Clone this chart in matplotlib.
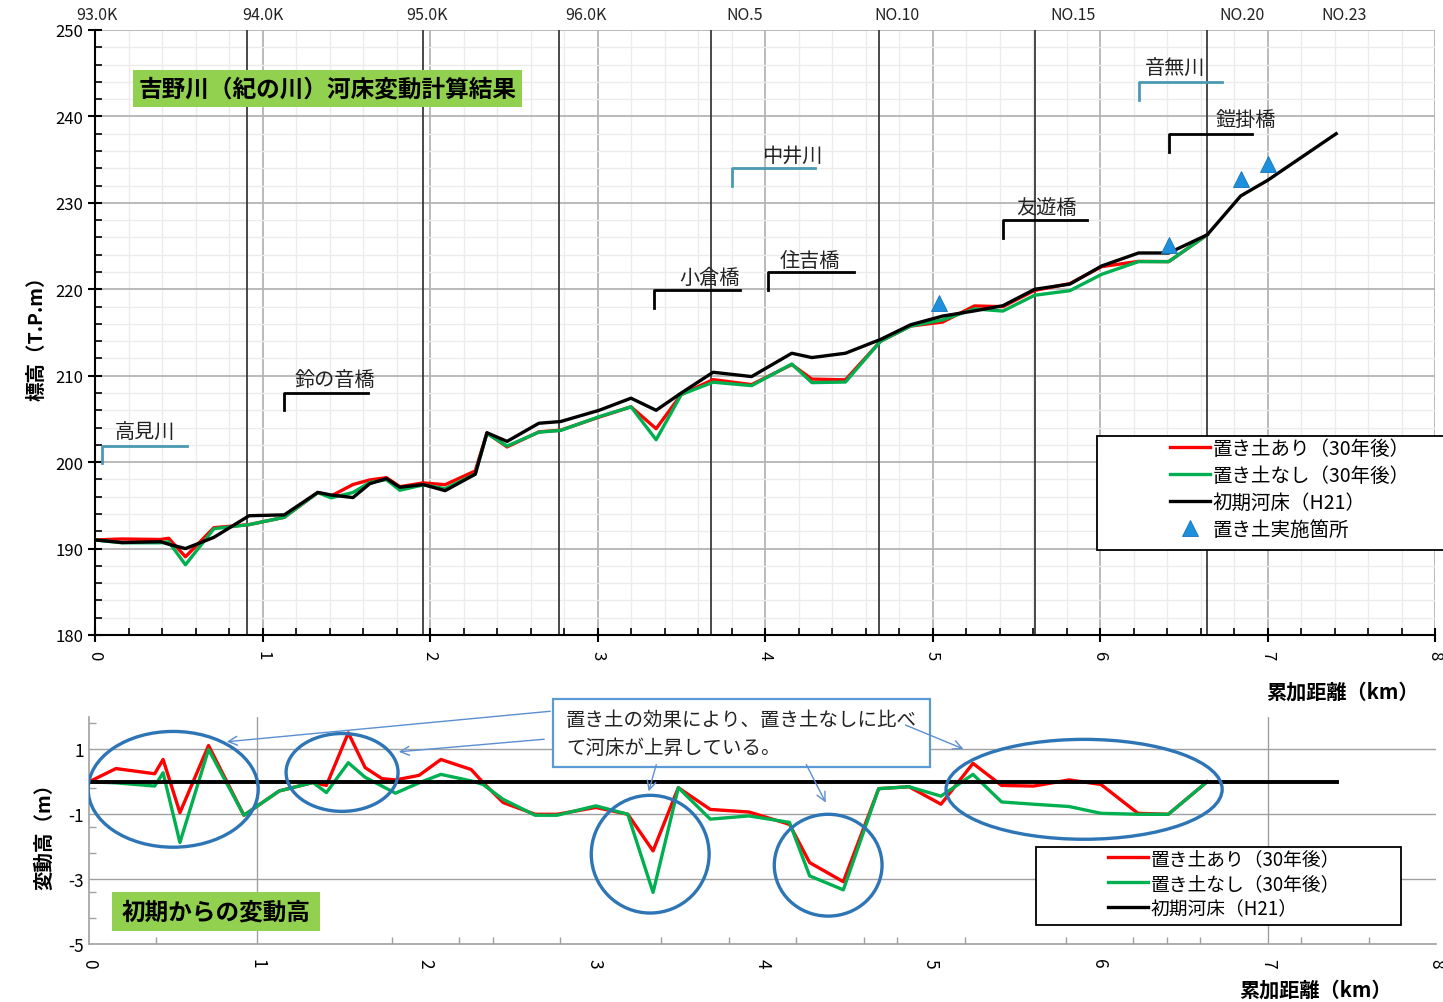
#!/usr/bin/env python3
"""Kinokawa (Yoshino) river bed change result: profile + change from initial bed."""

import matplotlib

matplotlib.use("Agg")

import matplotlib.pyplot as plt
from matplotlib.lines import Line2D
from matplotlib.patches import Ellipse, Rectangle, FancyArrowPatch
import numpy as np

plt.rcParams["font.family"] = ["Noto Sans CJK JP", "DejaVu Sans"]
plt.rcParams["axes.unicode_minus"] = False

# cumulative distance (km) of each cross section
km = [0.00, 0.16, 0.39, 0.44, 0.54, 0.71, 0.92, 1.13, 1.33, 1.41, 1.54, 1.64,
      1.74, 1.82, 1.96, 2.09, 2.27, 2.34, 2.46, 2.65, 2.78, 3.01, 3.20, 3.35,
      3.50, 3.69, 3.92, 4.16, 4.28, 4.48, 4.69, 4.87, 5.06, 5.25, 5.42, 5.61,
      5.82, 6.01, 6.23, 6.41, 6.64, 6.84, 7.00, 7.41]

# initial bed H21 (T.P.m)
bed_h21 = [191.0, 190.7, 190.8, 190.5, 190.0, 191.3, 193.8, 193.9, 196.5, 196.2,
           195.9, 197.5, 198.1, 197.1, 197.4, 196.7, 198.6, 203.4, 202.4, 204.5,
           204.7, 206.0, 207.4, 206.0, 208.0, 210.4, 209.9, 212.6, 212.1, 212.6,
           214.2, 215.9, 216.9, 217.5, 218.1, 220.0, 220.6, 222.7, 224.2, 224.2,
           226.3, 230.8, 232.6, 238.0]

# bed change after 30 years (m), sections up to 6.64 km
diff_with = [0.00, 0.41, 0.25, 0.69, -0.95, 1.12, -1.03, -0.28, -0.02, -0.11,
             1.51, 0.44, 0.10, 0.06, 0.20, 0.69, 0.38, -0.02, -0.64, -1.00,
             -1.00, -0.79, -1.00, -2.13, -0.18, -0.85, -0.93, -1.31, -2.49, -3.08,
             -0.21, -0.15, -0.69, 0.57, -0.11, -0.13, 0.06, -0.08, -0.97, -1.00,
             0.00]
diff_without = [0.00, -0.03, -0.13, 0.28, -1.87, 1.00, -1.03, -0.28, -0.02, -0.33,
                0.59, 0.14, -0.13, -0.35, -0.03, 0.23, 0.03, -0.08, -0.54, -1.03,
                -1.03, -0.74, -1.00, -3.41, -0.18, -1.15, -1.05, -1.25, -2.90, -3.33,
                -0.21, -0.15, -0.44, 0.23, -0.62, -0.69, -0.76, -0.97, -1.00, -1.00,
                0.00]

# placed-sediment locations
fill_km = [5.04, 6.41, 6.84, 7.00]
fill_elev = [218.4, 225.1, 232.8, 234.5]

station_labels = ["93.0K", "94.0K", "95.0K", "96.0K", "NO.5", "NO.10", "NO.15", "NO.20", "NO.23"]
station_km = [0.01, 1.00, 1.98, 2.93, 3.88, 4.79, 5.84, 6.85, 7.46]
section_lines_km = [0.91, 1.96, 2.77, 3.68, 4.68, 5.61, 6.64]

# name, bracket x0, x1, y_low, y_high, text x, text y, colour
brackets = [
    ("高見川", 0.04, 0.55, 199.9, 201.9, 0.30, 203.4, "#4a9ab3"),
    ("鈴の音橋", 1.13, 1.63, 206.0, 208.0, 1.43, 209.6, "black"),
    ("小倉橋", 3.34, 3.85, 217.8, 219.9, 3.67, 221.4, "black"),
    ("住吉橋", 4.02, 4.53, 219.9, 222.0, 4.27, 223.3, "black"),
    ("中井川", 3.80, 4.30, 232.0, 234.0, 4.16, 235.5, "#4a9ab3"),
    ("友遊橋", 5.42, 5.92, 225.9, 228.0, 5.68, 229.5, "black"),
    ("音無川", 6.23, 6.73, 241.9, 244.0, 6.45, 245.6, "#4a9ab3"),
    ("鎧掛橋", 6.41, 6.91, 235.9, 238.0, 6.87, 239.6, "black"),
]

RED = "#ff0000"
GREEN = "#00b050"
BLUE = "#1e8fdc"

W, H = 1443, 1003


def fx(px):
    return px / W


def fy(py):
    return 1 - py / H


km = np.asarray(km)
bed = np.asarray(bed_h21)
n = len(diff_with)
elev_with = bed[:n] + np.asarray(diff_with)
elev_without = bed[:n] + np.asarray(diff_without)

fig = plt.figure(figsize=(W / 100, H / 100), dpi=100)

# ---------------- top: longitudinal profile ----------------
ax1 = fig.add_axes([fx(95), fy(636), fx(1435) - fx(95), fy(31) - fy(636)])
ax1.set_xlim(0, 8)
ax1.set_ylim(180, 250)
ax1.set_xticks(np.arange(0, 9, 1))
ax1.set_xticks(np.arange(0, 8.01, 0.2), minor=True)
ax1.set_yticks(np.arange(180, 251, 10))
ax1.set_yticks(np.arange(180, 251, 2), minor=True)
ax1.grid(True, which="minor", color="#ececec", linewidth=1.0)
ax1.grid(True, which="major", color="#b4b4b4", linewidth=1.3)
ax1.set_axisbelow(True)
for s in ("top", "right"):
    ax1.spines[s].set_visible(False)
for s in ("left", "bottom"):
    ax1.spines[s].set_color("black")
    ax1.spines[s].set_linewidth(1.5)
ax1.tick_params(axis="both", which="major", direction="inout", length=10, width=1.5,
                labelsize=12)
ax1.tick_params(axis="both", which="minor", direction="in", length=5, width=1.2)
ax1.tick_params(axis="x", labelrotation=-90, pad=6)

for xl in section_lines_km:
    ax1.axvline(xl, color="#3a3a3a", linewidth=1.3, zorder=1.5)

ax1.plot(km[:n], elev_with, color=RED, linewidth=2.4, zorder=3)
ax1.plot(km[:n], elev_without, color=GREEN, linewidth=2.4, zorder=3.2)
ax1.plot(km, bed, color="black", linewidth=2.4, zorder=3.4)
ax1.plot(fill_km, fill_elev, linestyle="none", marker="^", markersize=11,
         color=BLUE, markeredgecolor="#1573b8", markeredgewidth=0.6, zorder=4)

for name, x0, x1, ylo, yhi, tx, ty, col in brackets:
    ax1.plot([x0, x0, x1], [ylo, yhi, yhi], color=col, linewidth=2.0, zorder=2.5)
    ax1.text(tx, ty, name, ha="center", va="center", fontsize=14.5, color="#222222")

for lab, xs in zip(station_labels, station_km):
    ax1.text(xs, 250 + 1.8, lab, ha="center", va="center", fontsize=11.5,
             color="#222222", clip_on=False)

ax1.set_ylabel("標高（T.P.m）", fontsize=14, fontweight="bold", labelpad=6)
fig.text(fx(1342), fy(692), "累加距離（km）", ha="center", va="center",
         fontsize=14.5, fontweight="bold")

# title box
fig.patches.append(Rectangle((fx(133), fy(108)), fx(522) - fx(133), fy(71) - fy(108),
                             transform=fig.transFigure, facecolor="#92d050",
                             edgecolor="none", zorder=2))
fig.text(fx(328), fy(90), "吉野川（紀の川）河床変動計算結果", ha="center", va="center",
         fontsize=17, fontweight="bold", zorder=3)

# top legend
fig.patches.append(Rectangle((fx(1097), fy(551)), fx(1450) - fx(1097), fy(437) - fy(551),
                             transform=fig.transFigure, facecolor="white",
                             edgecolor="black", linewidth=1.3, zorder=4))
h1 = [Line2D([], [], color=RED, linewidth=2.4),
      Line2D([], [], color=GREEN, linewidth=2.4),
      Line2D([], [], color="black", linewidth=2.4),
      Line2D([], [], linestyle="none", marker="^", markersize=11, color=BLUE,
             markeredgecolor="#1573b8", markeredgewidth=0.6)]
l1 = ["置き土あり（30年後）", "置き土なし（30年後）", "初期河床（H21）", "置き土実施箇所"]
leg1 = fig.legend(h1, l1, loc="upper left", bbox_to_anchor=(fx(1170), fy(439)),
                  frameon=False, fontsize=14, handlelength=2.05, handletextpad=0.15,
                  borderpad=0, borderaxespad=0, labelspacing=0.3)
leg1.set_zorder(6)

# ---------------- bottom: change from initial bed ----------------
ax2 = fig.add_axes([fx(89), fy(945), fx(1436) - fx(89), fy(718) - fy(945)])
ax2.set_xlim(0, 8)
ax2.set_ylim(-5, 2)
ax2.set_xticks(np.arange(0, 9, 1))
ax2.set_xticks([0.4, 1.8, 2.2, 2.4, 2.8, 3.4, 3.8, 4.2, 4.6, 4.8, 5.2, 5.8, 6.2,
                6.4, 6.6, 7.2, 7.6], minor=True)
ax2.set_yticks([1, -1, -3, -5])
ax2.set_yticks([1.8, -0.2, -1.4, -2.2, -3.4, -4.2], minor=True)
for yg in (1, -1, -3):
    ax2.axhline(yg, color="#a0a0a0", linewidth=1.0, zorder=0.5)
for xg in (1, 7):
    ax2.axvline(xg, color="#a0a0a0", linewidth=1.0, zorder=0.5)
for s in ("top", "right"):
    ax2.spines[s].set_visible(False)
for s in ("left", "bottom"):
    ax2.spines[s].set_color("#a0a0a0")
    ax2.spines[s].set_linewidth(1.2)
ax2.tick_params(axis="both", which="major", direction="in", length=0, labelsize=12.5)
ax2.tick_params(axis="both", which="minor", direction="in", length=5, width=1.0,
                color="#a0a0a0")
ax2.tick_params(axis="x", labelrotation=-90, pad=10)

ax2.plot(km[:n], diff_with, color=RED, linewidth=2.4, zorder=3)
ax2.plot(km[:n], diff_without, color=GREEN, linewidth=2.4, zorder=3.2)
ax2.plot([km[0], km[-1]], [0, 0], color="black", linewidth=2.8, zorder=3.4)

ellipses = [(0.50, -0.23, 1.01, 3.57), (1.503, 0.29, 0.665, 2.4),
            (3.333, -2.23, 0.70, 3.63), (4.39, -2.57, 0.64, 3.14),
            (5.91, -0.23, 1.64, 3.08)]
for cx, cy, ew, eh in ellipses:
    ax2.add_patch(Ellipse((cx, cy), ew, eh, fill=False, edgecolor="#2e75b6",
                          linewidth=2.4, zorder=4))

ax2.set_ylabel("変動高（m）", fontsize=14, fontweight="bold", labelpad=10)
fig.text(fx(1315), fy(990), "累加距離（km）", ha="center", va="center",
         fontsize=14.5, fontweight="bold")

# bottom title box
fig.patches.append(Rectangle((fx(112), fy(932)), fx(320) - fx(112), fy(893) - fy(932),
                             transform=fig.transFigure, facecolor="#92d050",
                             edgecolor="none", zorder=2))
fig.text(fx(216), fy(913), "初期からの変動高", ha="center", va="center",
         fontsize=17, fontweight="bold", zorder=3)

# callout
fig.patches.append(Rectangle((fx(553), fy(768)), fx(930) - fx(553), fy(700) - fy(768),
                             transform=fig.transFigure, facecolor="white",
                             edgecolor="#5b9bd5", linewidth=1.6, zorder=4))
fig.text(fx(566), fy(720), "置き土の効果により、置き土なしに比べ", ha="left", va="center",
         fontsize=14, color="#222222", zorder=5)
fig.text(fx(566), fy(748), "て河床が上昇している。", ha="left", va="center",
         fontsize=14, color="#222222", zorder=5)
arrows = [((553, 712), (224, 743)), ((547, 740), (396, 753)),
          ((657, 763), (648, 795)), ((805, 763), (827, 806)),
          ((903, 725), (966, 751))]
for (x0, y0), (x1, y1) in arrows:
    fig.add_artist(FancyArrowPatch(
        (fx(x0), fy(y0)), (fx(x1), fy(y1)), transform=fig.transFigure,
        arrowstyle="->", mutation_scale=16, color="#5b8fd0", linewidth=1.0, zorder=5))

# bottom legend
fig.patches.append(Rectangle((fx(1036), fy(926)), fx(1401) - fx(1036), fy(848) - fy(926),
                             transform=fig.transFigure, facecolor="white",
                             edgecolor="black", linewidth=1.3, zorder=4))
h2 = h1[:3]
l2 = l1[:3]
leg2 = fig.legend(h2, l2, loc="upper left", bbox_to_anchor=(fx(1108), fy(849)),
                  frameon=False, fontsize=13.5, handlelength=2.15, handletextpad=0.12,
                  borderpad=0, borderaxespad=0, labelspacing=0.2)
leg2.set_zorder(6)

fig.savefig("out.png", dpi=100)
plt.close(fig)
